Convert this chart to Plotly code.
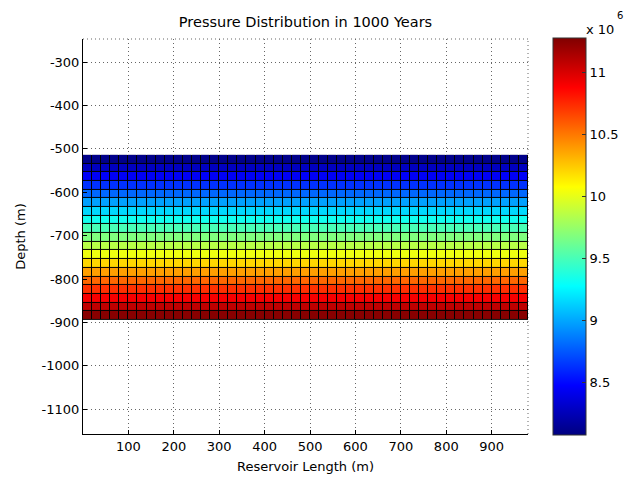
import plotly.graph_objects as go

# ---- data ----
# mesh nodes (m): reservoir length and depth
x_nodes = list(range(0, 1000, 20))            # 0 .. 980  -> 49 cells
depth_nodes = [-894, -874, -854, -834, -814, -794, -774, -754, -734, -714,
               -694, -674, -654, -634, -614, -594, -574, -554, -534, -514]
# pressure per cell row (Pa), from deepest row (bottom) to shallowest row (top)
row_pressure = [11.25e6, 11.075e6, 10.90e6, 10.725e6, 10.55e6, 10.375e6,
                10.20e6, 10.025e6, 9.85e6, 9.675e6, 9.50e6, 9.325e6,
                9.15e6, 8.975e6, 8.80e6, 8.625e6, 8.45e6, 8.275e6, 8.10e6]
p_min, p_max = 8.073e6, 11.275e6

x_tick_vals = [100, 200, 300, 400, 500, 600, 700, 800, 900]
x_tick_text = ["100", "200", "300", "400", "500", "600", "700", "800", "900"]
y_tick_vals = [-300, -400, -500, -600, -700, -800, -900, -1000, -1100]
y_tick_text = ["-300", "-400", "-500", "-600", "-700", "-800", "-900", "-1000", "-1100"]
cb_tick_vals = [8.5e6, 9.0e6, 9.5e6, 10.0e6, 10.5e6, 11.0e6]
cb_tick_text = ["8.5", "9", "9.5", "10", "10.5", "11"]

title_text = "Pressure Distribution in 1000 Years"
x_title = "Reservoir Length (m)"
y_title = "Depth (m)"
scale_text = "x 10"
scale_exp = "6"

# ---- figure ----
n_cols = len(x_nodes) - 1
z = [[p] * n_cols for p in row_pressure]
z_black = [[0] * n_cols for _ in row_pressure]

jet = [
    [0.0, "rgb(0,0,128)"],
    [0.125, "rgb(0,0,255)"],
    [0.375, "rgb(0,255,255)"],
    [0.625, "rgb(255,255,0)"],
    [0.875, "rgb(255,0,0)"],
    [1.0, "rgb(128,0,0)"],
]

FONT = "DejaVu Sans"
GRID = dict(showgrid=True, gridcolor="#666", griddash="1px,3px", gridwidth=1)

# plot-area pixel frame used to place the colorbar label in paper coords
PL, PR, PT, PB = 83, 528, 39, 434


def px(xp):
    return (xp - PL) / (PR - PL)


def py(yp):
    return (PB - yp) / (PB - PT)


fig = go.Figure()
# black underlay -> cell edge lines
fig.add_trace(go.Heatmap(
    x=x_nodes, y=depth_nodes, z=z_black,
    colorscale=[[0, "black"], [1, "black"]], showscale=False, hoverinfo="skip",
))
fig.add_trace(go.Heatmap(
    x=x_nodes, y=depth_nodes, z=z,
    colorscale=jet, zmin=p_min, zmax=p_max,
    xgap=1, ygap=1,
    colorbar=dict(
        xref="container", x=553 / 632, xanchor="left",
        yref="paper", y=0.5, yanchor="middle", len=1.006, lenmode="fraction",
        thickness=33, xpad=0, ypad=0,
        outlinewidth=1, outlinecolor="#333",
        tickvals=cb_tick_vals, ticktext=cb_tick_text,
        ticks="inside", ticklen=4, tickcolor="#333",
        tickfont=dict(family=FONT, size=13, color="black"),
    ),
))

fig.update_layout(
    width=632, height=480,
    margin=dict(l=PL, r=632 - PR, t=PT, b=480 - PB),
    paper_bgcolor="white", plot_bgcolor="white",
    showlegend=False,
    title=dict(text=title_text, x=(PL + PR) / 2 / 632, xanchor="center",
               y=1 - 22 / 480, yanchor="middle",
               font=dict(family=FONT, size=14.5, color="black")),
    font=dict(family=FONT, size=13, color="black"),
    annotations=[
        dict(text=scale_text, xref="paper", yref="paper",
             x=px(584), y=py(29), xanchor="left", yanchor="middle",
             showarrow=False, font=dict(family=FONT, size=13, color="black")),
        dict(text=scale_exp, xref="paper", yref="paper",
             x=px(615), y=py(16), xanchor="left", yanchor="middle",
             showarrow=False, font=dict(family=FONT, size=10, color="black")),
    ],
    shapes=[
        dict(type="line", xref="x domain", yref="y domain", x0=0, x1=1, y0=1, y1=1,
             line=dict(color="#666", width=1, dash="1px,3px"), layer="below"),
        dict(type="line", xref="x domain", yref="y domain", x0=1, x1=1, y0=0, y1=1,
             line=dict(color="#666", width=1, dash="1px,3px"), layer="below"),
    ],
)
fig.update_xaxes(
    range=[0, 980], tickvals=x_tick_vals, ticktext=x_tick_text,
    ticks="inside", ticklen=4, tickcolor="black",
    showline=True, linecolor="black", linewidth=1, mirror=False,
    zeroline=False, automargin=False, **GRID,
    title=dict(text=x_title, standoff=9, font=dict(family=FONT, size=13)),
)
fig.update_yaxes(
    range=[-1157, -247], tickvals=y_tick_vals, ticktext=y_tick_text,
    ticks="inside", ticklen=4, tickcolor="black",
    showline=True, linecolor="black", linewidth=1, mirror=False,
    zeroline=False, automargin=False, **GRID,
    title=dict(text=y_title, standoff=13, font=dict(family=FONT, size=13)),
)

fig.write_html("out.html", config={"displayModeBar": False},
               post_script="document.body.style.margin='0';")
